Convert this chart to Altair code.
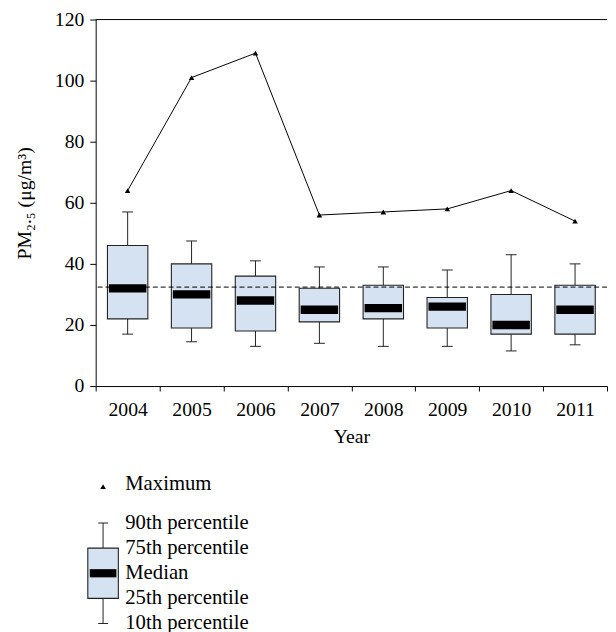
import altair as alt
import pandas as pd

# ---- data ----
years = ["2004", "2005", "2006", "2007", "2008", "2009", "2010", "2011"]
p10 = [17.0, 14.5, 13.0, 14.0, 13.0, 13.0, 11.5, 13.5]
q1 = [22.0, 19.0, 18.0, 21.0, 22.0, 19.0, 17.0, 17.0]
median = [32.0, 30.0, 28.0, 25.0, 25.5, 26.0, 20.0, 25.0]
q3 = [46.0, 40.0, 36.0, 32.0, 33.0, 29.0, 30.0, 33.0]
p90 = [57.0, 47.5, 41.0, 39.0, 39.0, 38.0, 43.0, 40.0]
maximum = [64, 101, 109, 56, 57, 58, 64, 54]
reference_level = 32.4
y_ticks = list(range(0, 121, 10))

# legend key (levels of the sample box, bottom to top)
legend_labels = ["10th percentile", "25th percentile", "Median",
                 "75th percentile", "90th percentile", "Maximum"]
legend_levels = [0, 1, 2, 3, 4, 5.55]

FONT = "Liberation Serif"
FS = 20
BOX_FILL = "#d5e2f1"
EDGE = "#222222"

df = pd.DataFrame({"Year": years, "p10": p10, "q1": q1, "median": median,
                   "q3": q3, "p90": p90, "max": maximum})

x_enc = alt.X("Year:N", sort=years,
              scale=alt.Scale(paddingInner=0, paddingOuter=0),
              axis=alt.Axis(title="Year", labelAngle=0, tickBand="extent",
                            tickSize=5, labelPadding=9, titlePadding=7,
                            labelFont=FONT, titleFont=FONT,
                            labelFontSize=FS, titleFontSize=FS))
y_scale = alt.Scale(domain=[0, 120], nice=False, zero=True)
y_axis = alt.Axis(title="PM₂.₅ (μg/m³)", values=y_ticks,
                  labelExpr="datum.value % 20 == 0 ? datum.label : ''",
                  tickSize=6, labelPadding=6, titlePadding=20,
                  labelFont=FONT, titleFont=FONT,
                  labelFontSize=FS, titleFontSize=FS)

base = alt.Chart(df)
X = alt.X("Year:N", sort=years)

whisker = base.mark_rule(color=EDGE, strokeWidth=1).encode(
    x=x_enc,
    y=alt.Y("p10:Q", scale=y_scale, axis=y_axis),
    y2="p90:Q",
)
caps_lo = base.mark_tick(color=EDGE, size=11, thickness=1, opacity=1).encode(
    x=X, y=alt.Y("p10:Q"))
caps_hi = base.mark_tick(color=EDGE, size=11, thickness=1, opacity=1).encode(
    x=X, y=alt.Y("p90:Q"))
box = base.mark_bar(fill=BOX_FILL, stroke=EDGE, strokeWidth=1.1, size=41,
                    opacity=1).encode(x=X, y=alt.Y("q1:Q"), y2="q3:Q")
dashed = alt.Chart(pd.DataFrame({"v": [reference_level]})).mark_rule(
    color="black", strokeWidth=1, strokeDash=[5, 3]).encode(y=alt.Y("v:Q"))
med = base.mark_tick(color="black", size=38, thickness=8.5,
                     opacity=1).encode(x=X, y=alt.Y("median:Q"))
max_line = base.mark_line(color="black", strokeWidth=1).encode(
    x=X, y=alt.Y("max:Q"))
max_pts = base.mark_point(shape="triangle-up", filled=True, color="black",
                          size=32, opacity=1).encode(x=X, y=alt.Y("max:Q"))
top_border = alt.Chart(pd.DataFrame({"v": [120]})).mark_rule(
    color="black", strokeWidth=1).encode(y=alt.Y("v:Q"))

main = alt.layer(whisker, caps_lo, caps_hi, box, dashed, med, max_line,
                 max_pts, top_border).properties(width=519, height=372)

# ---- legend panel (x measured from the plot's left edge) ----
lx = alt.Scale(domain=[0, 200])
ly = alt.Scale(domain=[0, 6])
leg_df = pd.DataFrame({"label": legend_labels, "level": legend_levels})
leg_box = pd.DataFrame({"x": [-8], "x2": [23], "y": [1], "y2": [3]})
leg_whisk = pd.DataFrame({"x": [7.5], "y": [0], "y2": [4]})
leg_caps = pd.DataFrame({"x": [2.5, 2.5], "x2": [12.5, 12.5], "y": [0, 4]})
leg_med = pd.DataFrame({"x": [-6], "x2": [21], "y": [2]})
leg_max = pd.DataFrame({"x": [7.5], "y": [5.45]})

lg_whisk = alt.Chart(leg_whisk).mark_rule(color=EDGE, strokeWidth=1).encode(
    x=alt.X("x:Q", scale=lx, axis=None),
    y=alt.Y("y:Q", scale=ly, axis=None), y2="y2:Q")
lg_caps = alt.Chart(leg_caps).mark_rule(color=EDGE, strokeWidth=1).encode(
    x=alt.X("x:Q", scale=lx, axis=None), x2="x2:Q",
    y=alt.Y("y:Q", scale=ly, axis=None))
lg_box = alt.Chart(leg_box).mark_rect(fill=BOX_FILL, stroke=EDGE,
                                      strokeWidth=1.1).encode(
    x=alt.X("x:Q", scale=lx, axis=None), x2="x2:Q",
    y=alt.Y("y:Q", scale=ly, axis=None), y2="y2:Q")
lg_med = alt.Chart(leg_med).mark_rule(color="black", strokeWidth=8.3,
                                      strokeCap="butt").encode(
    x=alt.X("x:Q", scale=lx, axis=None), x2="x2:Q",
    y=alt.Y("y:Q", scale=ly, axis=None))
lg_max = alt.Chart(leg_max).mark_point(shape="triangle-up", filled=True,
                                       color="black", size=32,
                                       opacity=1).encode(
    x=alt.X("x:Q", scale=lx, axis=None),
    y=alt.Y("y:Q", scale=ly, axis=None))
lg_text = alt.Chart(leg_df).mark_text(align="left", baseline="middle",
                                      font=FONT, fontSize=21,
                                      color="black", dx=30).encode(
    x=alt.value(0),
    y=alt.Y("level:Q", scale=ly, axis=None), text="label:N")

legend = alt.layer(lg_whisk, lg_caps, lg_box, lg_med, lg_max,
                   lg_text).properties(width=200, height=153)

chart = alt.vconcat(main, legend, spacing=27).properties(
    padding={"left": 7, "top": -3, "right": 0, "bottom": 0}
).configure_view(stroke=None).configure_axis(
    grid=False, domainColor="black", tickColor="black", labelColor="black",
    titleColor="black", labelFont=FONT, titleFont=FONT, labelFontSize=FS,
    titleFontSize=FS, titleFontWeight="normal", domainWidth=1, tickWidth=1
)

chart.save("out.html", embed_options={"renderer": "svg", "actions": False})
